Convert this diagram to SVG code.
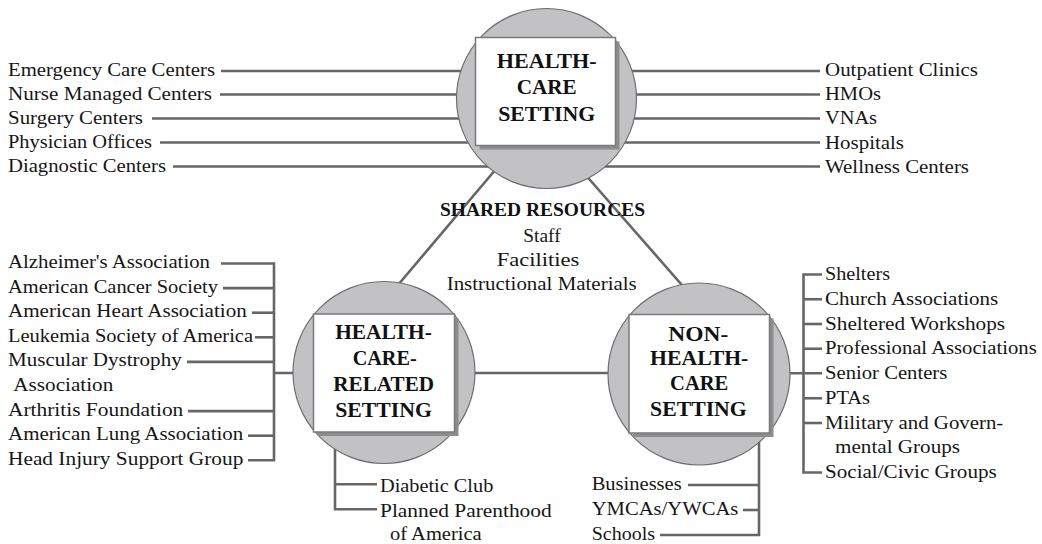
<svg xmlns="http://www.w3.org/2000/svg" width="1042" height="544" viewBox="0 0 1042 544">
<style>
.bg{fill:#ffffff}
.ln{stroke:#666666;stroke-width:2.6;fill:none;stroke-linecap:butt}
.circ{fill:#c2c2c4;stroke:#6e6e6e;stroke-width:1.2}
.shadow{fill:#8c8c8c}
.box{fill:#ffffff;stroke:#7a7a7a;stroke-width:1.5}
.t{font-family:"Liberation Serif","Times New Roman",serif;font-size:18px;fill:#161616}
.h{font-family:"Liberation Serif","Times New Roman",serif;font-size:20px;font-weight:bold;fill:#111111;text-anchor:middle}
.sh{font-family:"Liberation Serif","Times New Roman",serif;font-size:18px;font-weight:bold;fill:#111111;text-anchor:middle}
.m{text-anchor:middle}
</style>
<rect class="bg" x="0" y="0" width="1042" height="544"/>

<g id="connectors">
  <line class="ln" x1="221" y1="71" x2="546" y2="71"/>
  <line class="ln" x1="220" y1="94.5" x2="546" y2="94.5"/>
  <line class="ln" x1="152" y1="118.5" x2="546" y2="118.5"/>
  <line class="ln" x1="160" y1="142.5" x2="546" y2="142.5"/>
  <line class="ln" x1="173" y1="166.5" x2="546" y2="166.5"/>
  <line class="ln" x1="546" y1="71" x2="820" y2="71"/>
  <line class="ln" x1="546" y1="94.5" x2="820" y2="94.5"/>
  <line class="ln" x1="546" y1="118.5" x2="820" y2="118.5"/>
  <line class="ln" x1="546" y1="142.5" x2="820" y2="142.5"/>
  <line class="ln" x1="546" y1="166.5" x2="820" y2="166.5"/>
  <line class="ln" x1="499.4" y1="165" x2="385.3" y2="300"/>
  <line class="ln" x1="576.9" y1="165" x2="695" y2="300"/>
  <line class="ln" x1="384" y1="373" x2="699" y2="373"/>
  <path class="ln" d="M221,263.5 H274 V460.3 H248"/>
  <line class="ln" x1="223" y1="288.1" x2="274" y2="288.1"/>
  <line class="ln" x1="252" y1="312.7" x2="274" y2="312.7"/>
  <line class="ln" x1="255" y1="337.3" x2="274" y2="337.3"/>
  <line class="ln" x1="187" y1="361.9" x2="274" y2="361.9"/>
  <line class="ln" x1="188" y1="411.1" x2="274" y2="411.1"/>
  <line class="ln" x1="248" y1="435.7" x2="274" y2="435.7"/>
  <line class="ln" x1="274" y1="373" x2="384" y2="373"/>
  <path class="ln" d="M335,430 V509.3 H377"/>
  <line class="ln" x1="335" y1="484.3" x2="377" y2="484.3"/>
  <path class="ln" d="M759,420 V535 H660"/>
  <line class="ln" x1="688" y1="485" x2="759" y2="485"/>
  <line class="ln" x1="743" y1="510" x2="759" y2="510"/>
  <path class="ln" d="M822,274.5 H803.5 V472.5 H822"/>
  <line class="ln" x1="803.5" y1="299.25" x2="822" y2="299.25"/>
  <line class="ln" x1="803.5" y1="324" x2="822" y2="324"/>
  <line class="ln" x1="803.5" y1="348.75" x2="822" y2="348.75"/>
  <line class="ln" x1="699" y1="373.3" x2="822" y2="373.3"/>
  <line class="ln" x1="803.5" y1="398.25" x2="822" y2="398.25"/>
  <line class="ln" x1="803.5" y1="423" x2="822" y2="423"/>
</g>

<g id="node-health-care-setting">
  <circle class="circ" cx="546.5" cy="98.5" r="90"/>
  <rect class="shadow" x="479.5" y="41.5" width="140" height="108"/>
  <rect class="box" x="475.5" y="37.5" width="140" height="108"/>
  <text class="h" x="546.7" y="68.3" textLength="100" lengthAdjust="spacingAndGlyphs">HEALTH-</text>
  <text class="h" x="546.7" y="94.3" textLength="60" lengthAdjust="spacingAndGlyphs">CARE</text>
  <text class="h" x="546.7" y="120.7" textLength="97" lengthAdjust="spacingAndGlyphs">SETTING</text>
</g>

<g id="node-health-care-related-setting">
  <circle class="circ" cx="384" cy="372.5" r="91"/>
  <rect class="shadow" x="317.5" y="318" width="141" height="118"/>
  <rect class="box" x="313.5" y="314" width="141" height="118"/>
  <text class="h" x="383.5" y="339.3" textLength="96.7" lengthAdjust="spacingAndGlyphs">HEALTH-</text>
  <text class="h" x="384.7" y="365" textLength="64" lengthAdjust="spacingAndGlyphs">CARE-</text>
  <text class="h" x="383.7" y="390.7" textLength="100.7" lengthAdjust="spacingAndGlyphs">RELATED</text>
  <text class="h" x="383.5" y="416.7" textLength="96.7" lengthAdjust="spacingAndGlyphs">SETTING</text>
</g>

<g id="node-non-health-care-setting">
  <circle class="circ" cx="699" cy="374" r="91"/>
  <rect class="shadow" x="633" y="318.5" width="140.5" height="118.5"/>
  <rect class="box" x="629" y="314.5" width="140.5" height="118.5"/>
  <text class="h" x="698.3" y="340.7" textLength="60" lengthAdjust="spacingAndGlyphs">NON-</text>
  <text class="h" x="699.2" y="365" textLength="98.3" lengthAdjust="spacingAndGlyphs">HEALTH-</text>
  <text class="h" x="699.2" y="390" textLength="58.3" lengthAdjust="spacingAndGlyphs">CARE</text>
  <text class="h" x="698.4" y="415.7" textLength="96.7" lengthAdjust="spacingAndGlyphs">SETTING</text>
</g>

<g id="shared-resources">
  <text class="sh" x="542.5" y="216" textLength="205" lengthAdjust="spacingAndGlyphs">SHARED RESOURCES</text>
  <text class="t m" x="542" y="241.7" textLength="37.3" lengthAdjust="spacingAndGlyphs">Staff</text>
  <text class="t m" x="538" y="266" textLength="82.7" lengthAdjust="spacingAndGlyphs">Facilities</text>
  <text class="t m" x="541.7" y="290" textLength="190" lengthAdjust="spacingAndGlyphs">Instructional Materials</text>
</g>

<g id="labels-health-care-left">
  <text class="t" x="8" y="76" textLength="207" lengthAdjust="spacingAndGlyphs">Emergency Care Centers</text>
  <text class="t" x="8" y="100" textLength="204" lengthAdjust="spacingAndGlyphs">Nurse Managed Centers</text>
  <text class="t" x="8" y="124" textLength="135" lengthAdjust="spacingAndGlyphs">Surgery Centers</text>
  <text class="t" x="8" y="148.3" textLength="144" lengthAdjust="spacingAndGlyphs">Physician Offices</text>
  <text class="t" x="8" y="172.3" textLength="158" lengthAdjust="spacingAndGlyphs">Diagnostic Centers</text>
</g>

<g id="labels-health-care-right">
  <text class="t" x="825" y="76" textLength="153" lengthAdjust="spacingAndGlyphs">Outpatient Clinics</text>
  <text class="t" x="825" y="100" textLength="56" lengthAdjust="spacingAndGlyphs">HMOs</text>
  <text class="t" x="825" y="124" textLength="52" lengthAdjust="spacingAndGlyphs">VNAs</text>
  <text class="t" x="825" y="149" textLength="79" lengthAdjust="spacingAndGlyphs">Hospitals</text>
  <text class="t" x="825" y="173" textLength="144" lengthAdjust="spacingAndGlyphs">Wellness Centers</text>
</g>

<g id="labels-related-left">
  <text class="t" x="8" y="268" textLength="202" lengthAdjust="spacingAndGlyphs">Alzheimer's Association</text>
  <text class="t" x="8" y="292.6" textLength="210" lengthAdjust="spacingAndGlyphs">American Cancer Society</text>
  <text class="t" x="8" y="317.2" textLength="238.7" lengthAdjust="spacingAndGlyphs">American Heart Association</text>
  <text class="t" x="8" y="341.8" textLength="245" lengthAdjust="spacingAndGlyphs">Leukemia Society of America</text>
  <text class="t" x="8" y="366.4" textLength="173.7" lengthAdjust="spacingAndGlyphs">Muscular Dystrophy</text>
  <text class="t" x="13.3" y="391" textLength="100" lengthAdjust="spacingAndGlyphs">Association</text>
  <text class="t" x="8" y="415.6" textLength="175.3" lengthAdjust="spacingAndGlyphs">Arthritis Foundation</text>
  <text class="t" x="8" y="440.2" textLength="235.3" lengthAdjust="spacingAndGlyphs">American Lung Association</text>
  <text class="t" x="8" y="464.8" textLength="235.3" lengthAdjust="spacingAndGlyphs">Head Injury Support Group</text>
</g>

<g id="labels-related-bottom">
  <text class="t" x="380" y="491.7" textLength="113.3" lengthAdjust="spacingAndGlyphs">Diabetic Club</text>
  <text class="t" x="380" y="516.7" textLength="171.7" lengthAdjust="spacingAndGlyphs">Planned Parenthood</text>
  <text class="t" x="390" y="540" textLength="91.7" lengthAdjust="spacingAndGlyphs">of America</text>
</g>

<g id="labels-non-health-bottom">
  <text class="t" x="591.7" y="490" textLength="90" lengthAdjust="spacingAndGlyphs">Businesses</text>
  <text class="t" x="591.7" y="515" textLength="146.7" lengthAdjust="spacingAndGlyphs">YMCAs/YWCAs</text>
  <text class="t" x="591.7" y="540" textLength="63.3" lengthAdjust="spacingAndGlyphs">Schools</text>
</g>

<g id="labels-non-health-right">
  <text class="t" x="825" y="280" textLength="65" lengthAdjust="spacingAndGlyphs">Shelters</text>
  <text class="t" x="825" y="304.75" textLength="173.3" lengthAdjust="spacingAndGlyphs">Church Associations</text>
  <text class="t" x="825" y="329.5" textLength="180" lengthAdjust="spacingAndGlyphs">Sheltered Workshops</text>
  <text class="t" x="825" y="354.25" textLength="211.7" lengthAdjust="spacingAndGlyphs">Professional Associations</text>
  <text class="t" x="825" y="379" textLength="122.3" lengthAdjust="spacingAndGlyphs">Senior Centers</text>
  <text class="t" x="825" y="403.75" textLength="45" lengthAdjust="spacingAndGlyphs">PTAs</text>
  <text class="t" x="825" y="428.5" textLength="178.3" lengthAdjust="spacingAndGlyphs">Military and Govern-</text>
  <text class="t" x="835" y="453.25" textLength="125" lengthAdjust="spacingAndGlyphs">mental Groups</text>
  <text class="t" x="825" y="478" textLength="171.7" lengthAdjust="spacingAndGlyphs">Social/Civic Groups</text>
</g>
</svg>
